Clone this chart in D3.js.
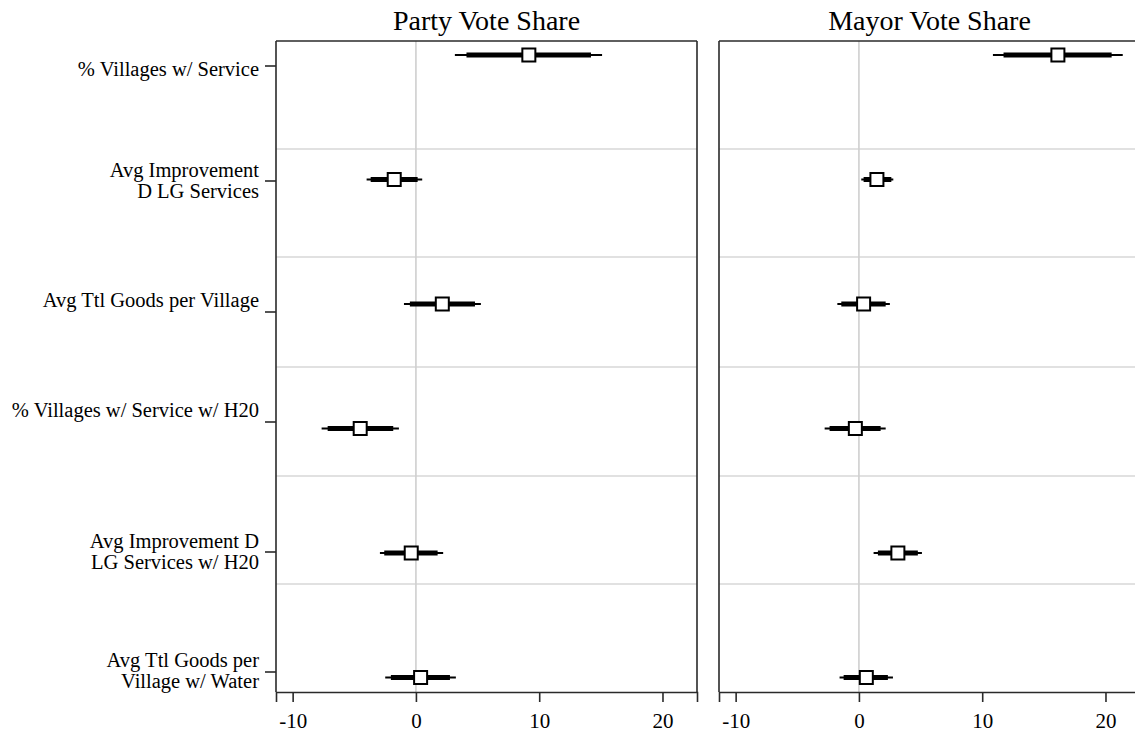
<!DOCTYPE html>
<html>
<head>
<meta charset="utf-8">
<script src="https://cdn.jsdelivr.net/npm/d3@7"></script>
<style>
  html, body { margin: 0; padding: 0; background: #fff; }
  svg { display: block; }
  text { font-family: "Liberation Serif", "Times New Roman", serif; fill: #000; }
</style>
</head>
<body>
<div id="chart"></div>
<script>
// ---------------- data ----------------
const categories = [
  ["% Villages w/ Service"],
  ["Avg Improvement", "D LG Services"],
  ["Avg Ttl Goods per Village"],
  ["% Villages w/ Service w/ H20"],
  ["Avg Improvement D", "LG Services w/ H20"],
  ["Avg Ttl Goods per", "Village w/ Water"]
];
const panelTitles = ["Party Vote Share", "Mayor Vote Share"];
const xTicks = [-10, 0, 10, 20];

const partyEst  = [9.16, -1.76, 2.14, -4.52, -0.38, 0.38];
const partyLo95 = [3.16, -4.00, -0.97, -7.65, -2.92, -2.49];
const partyHi95 = [15.10, 0.51, 5.27, -1.38, 2.21, 3.24];
const partyLo90 = [4.10, -3.67, -0.49, -7.16, -2.57, -2.03];
const partyHi90 = [14.20, 0.14, 4.79, -1.84, 1.76, 2.76];

const mayorEst  = [16.14, 1.46, 0.38, -0.29, 3.16, 0.60];
const mayorLo95 = [10.87, 0.19, -1.75, -2.78, 1.19, -1.57];
const mayorHi95 = [21.40, 2.79, 2.51, 2.17, 5.11, 2.76];
const mayorLo90 = [11.73, 0.38, -1.43, -2.38, 1.54, -1.24];
const mayorHi90 = [20.50, 2.63, 2.17, 1.76, 4.78, 2.35];

// ---------------- layout ----------------
const W = 1135, H = 734;
const plotTop = 41, plotBottom = 692, plotH = plotBottom - plotTop;
const panelW = 421;
const panelX = [276, 719];
const xDomain = [-11.35, 22.8];
// category tick marks and grid lines (pixel offsets from plot top, as in the original)
const catTickY = [25, 140, 271, 381, 511, 631];
const labelBaseOffset = [10, -4, -5, -5, -4, -5];
const gridY = [108, 216, 326, 435, 543];
const lineH = 20.5;

const panels = [
  { title: panelTitles[0], est: partyEst, lo95: partyLo95, hi95: partyHi95, lo90: partyLo90, hi90: partyHi90 },
  { title: panelTitles[1], est: mayorEst, lo95: mayorLo95, hi95: mayorHi95, lo90: mayorLo90, hi90: mayorHi90 }
];

const svg = d3.select("#chart").append("svg")
  .attr("width", W).attr("height", H);

const yScale = d3.scaleLinear().domain([0, categories.length - 1]).range([14, 636.5]);

panels.forEach((p, pi) => {
  const g = svg.append("g").attr("transform", `translate(${panelX[pi]},${plotTop})`);
  const x = d3.scaleLinear().domain(xDomain).range([0, panelW]);

  // title
  svg.append("text")
    .attr("x", panelX[pi] + panelW / 2).attr("y", 30)
    .attr("text-anchor", "middle")
    .style("font-size", "28px")
    .text(p.title);

  // horizontal grid lines
  g.selectAll("line.grid").data(gridY).join("line")
    .attr("class", "grid")
    .attr("x1", 0).attr("x2", panelW)
    .attr("y1", d => d).attr("y2", d => d)
    .attr("stroke", "#e1e1e1").attr("stroke-width", 2);

  // zero reference line
  g.append("line")
    .attr("x1", x(0)).attr("x2", x(0))
    .attr("y1", 0).attr("y2", plotH)
    .attr("stroke", "#cfcfcf").attr("stroke-width", 1.6);

  // frame
  const frame = g.append("g").attr("stroke", "#2a2a2a").attr("stroke-width", 1.6).attr("fill", "none");
  frame.append("line").attr("x1", 0).attr("x2", panelW).attr("y1", 0).attr("y2", 0);
  frame.append("line").attr("x1", 0).attr("x2", 0).attr("y1", 0).attr("y2", plotH);
  frame.append("line").attr("x1", panelW).attr("x2", panelW).attr("y1", 0).attr("y2", plotH);

  // x axis
  const ax = g.append("g").attr("transform", `translate(0,${plotH})`)
    .call(d3.axisBottom(x).tickValues(xTicks).tickSize(10).tickPadding(11).tickFormat(d => String(d)));
  ax.select(".domain").attr("stroke", "#2a2a2a").attr("stroke-width", 1.6);
  ax.selectAll(".tick line").attr("stroke", "#2a2a2a").attr("stroke-width", 1.6);
  ax.selectAll(".tick text")
    .style("font-family", "'Liberation Serif', 'Times New Roman', serif")
    .style("font-size", "21px").attr("fill", "#000");

  // 95% CI (thin)
  g.selectAll("line.ci95").data(p.est).join("line")
    .attr("class", "ci95")
    .attr("x1", (d, i) => x(p.lo95[i])).attr("x2", (d, i) => x(p.hi95[i]))
    .attr("y1", (d, i) => yScale(i)).attr("y2", (d, i) => yScale(i))
    .attr("stroke", "#000").attr("stroke-width", 2);
  // 90% CI (thick)
  g.selectAll("line.ci90").data(p.est).join("line")
    .attr("class", "ci90")
    .attr("x1", (d, i) => x(p.lo90[i])).attr("x2", (d, i) => x(p.hi90[i]))
    .attr("y1", (d, i) => yScale(i)).attr("y2", (d, i) => yScale(i))
    .attr("stroke", "#000").attr("stroke-width", 5);
  // point estimates
  const s = 13;
  g.selectAll("rect.pt").data(p.est).join("rect")
    .attr("class", "pt")
    .attr("x", d => x(d) - s / 2).attr("y", (d, i) => yScale(i) - s / 2)
    .attr("width", s).attr("height", s)
    .attr("fill", "#fff").attr("stroke", "#000").attr("stroke-width", 2);

  // y category axis on the left panel only
  if (pi === 0) {
    g.selectAll("line.ytick").data(catTickY).join("line")
      .attr("class", "ytick")
      .attr("x1", -11).attr("x2", 0)
      .attr("y1", d => d).attr("y2", d => d)
      .attr("stroke", "#2a2a2a").attr("stroke-width", 1.6);
    const lbl = g.selectAll("text.ylab").data(categories).join("text")
      .attr("class", "ylab")
      .attr("text-anchor", "end")
      .style("font-size", "20.5px")
      .attr("transform", (d, i) => `translate(-17,${catTickY[i] + labelBaseOffset[i]})`);
    lbl.selectAll("tspan").data(d => d).join("tspan")
      .attr("x", 0).attr("y", (d, j) => j * lineH)
      .text(d => d);
  }
});
</script>
</body>
</html>
